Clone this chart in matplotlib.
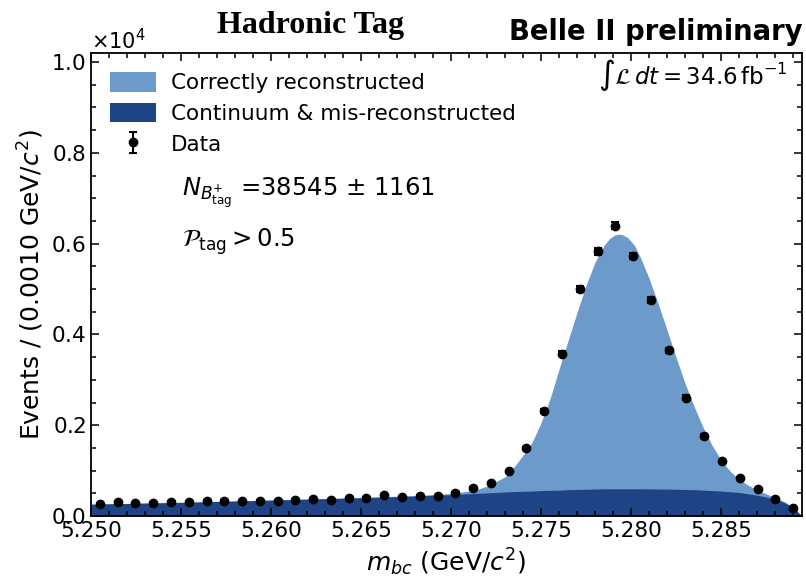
import numpy as np
import matplotlib
matplotlib.use("Agg")
from matplotlib import pyplot as plt
from matplotlib.ticker import MultipleLocator, FormatStrFormatter

plt.rcParams['mathtext.fontset'] = 'dejavusans'

# binning of the mbc histogram (40 bins)
x_lo, x_hi, n_bins = 5.25, 5.2895, 40
edges = np.linspace(x_lo, x_hi, n_bins + 1)
centers = 0.5 * (edges[1:] + edges[:-1])

# data counts per bin
counts = [258, 310, 280, 287, 310, 310, 324, 330, 324, 330,
          330, 360, 368, 346, 405, 405, 463, 412, 450, 450,
          516, 610, 728, 992, 1490, 2315, 3580, 4999, 5830, 6395,
          5727, 4756, 3647, 2610, 1760, 1206, 838, 589, 368, 170]

# fitted shapes (events / bin)
fit_x = [5.2500, 5.2550, 5.2600, 5.2650, 5.2680, 5.2700, 5.2710, 5.2715,
         5.2720, 5.2725, 5.2730, 5.2735, 5.2740, 5.2745, 5.2750, 5.2755,
         5.2760, 5.2765, 5.2770, 5.2775, 5.2780, 5.2785, 5.2788, 5.2791,
         5.2793, 5.2795, 5.2798, 5.2802, 5.2805, 5.2810, 5.2815, 5.2820,
         5.2825, 5.2830, 5.2835, 5.2840, 5.2845, 5.2850, 5.2855, 5.2860,
         5.2865, 5.2870, 5.2875, 5.2880, 5.2885, 5.2890, 5.2895]
fit_total = [260, 300, 350, 410, 450, 495, 550, 590,
             660, 760, 860, 1080, 1340, 1620, 2050, 2580,
             3230, 3860, 4480, 5080, 5590, 5960, 6110, 6190,
             6210, 6200, 6140, 5960, 5720, 5240, 4690, 4100,
             3500, 2930, 2420, 1960, 1560, 1240, 990, 810,
             680, 580, 490, 410, 320, 200, 0]
fit_bkg = [260, 300, 350, 400, 440, 470, 490, 500,
           510, 520, 530, 540, 545, 550, 560, 565,
           570, 580, 585, 590, 595, 598, 600, 600,
           600, 600, 600, 600, 600, 598, 595, 592,
           590, 585, 580, 570, 560, 550, 535, 520,
           490, 460, 420, 370, 300, 190, 0]

light = '#6c9bcb'
dark = '#1f4485'

fig = plt.figure(figsize=(8.06, 5.82), dpi=100)
ax = fig.add_axes([0.1129, 0.1134, 0.8821, 0.7955])

ax.fill_between(fit_x, 0, fit_total, color=light, lw=0,
                label='Correctly reconstructed')
ax.fill_between(fit_x, 0, fit_bkg, color=dark, lw=0,
                label='Continuum & mis-reconstructed')
ax.errorbar(centers, counts, yerr=np.sqrt(counts), fmt='o', color='black',
            ms=6, elinewidth=1.5, capsize=3, capthick=1.5, label='Data')

ax.set_xlim(x_lo, x_hi)
ax.set_ylim(0, 10200)
ax.xaxis.set_major_locator(MultipleLocator(0.005))
ax.xaxis.set_minor_locator(MultipleLocator(0.001))
ax.xaxis.set_major_formatter(FormatStrFormatter('%.3f'))
ax.yaxis.set_major_locator(MultipleLocator(2000))
ax.yaxis.set_minor_locator(MultipleLocator(500))
ax.ticklabel_format(axis='y', style='sci', scilimits=(0, 0), useMathText=True)
ax.yaxis.get_offset_text().set_fontsize(15)
ax.tick_params(which='both', direction='in', top=True, right=True,
               labelsize=15.5, width=1.1)
ax.tick_params(which='major', length=6)
ax.tick_params(which='minor', length=3.5)
for s in ax.spines.values():
    s.set_linewidth(1.3)

ax.set_xlabel(r'$m_{bc}$ (GeV/$c^2$)', fontsize=18)
ax.set_ylabel(r'Events / (0.0010 GeV/$c^2$)', fontsize=18)

ax.legend(loc='upper left', frameon=False, fontsize=15.5, handlelength=2.1,
          handleheight=1.0, labelspacing=0.45, borderaxespad=0.5,
          handletextpad=0.7)

ax.text(0.98, 0.952, r'$\int\mathcal{L}\,dt = 34.6\,\mathrm{fb}^{-1}$',
        transform=ax.transAxes, ha='right', va='center', fontsize=16.5)
ax.text(0.128, 0.698, r'$N_{B^{+}_{\rm tag}}$ =38545 $\pm$ 1161',
        transform=ax.transAxes, ha='left', va='center', fontsize=17.5)
ax.text(0.128, 0.592, r'$\mathcal{P}_{\rm tag} > 0.5$',
        transform=ax.transAxes, ha='left', va='center', fontsize=17.5)

fig.text(0.385, 0.957, 'Hadronic Tag', ha='center', va='center',
         fontsize=23, fontweight='bold', family='Liberation Serif')
fig.text(0.996, 0.945, 'Belle II preliminary', ha='right', va='center',
         fontsize=19.8, fontweight='bold')

fig.savefig('out.png', dpi=100)
